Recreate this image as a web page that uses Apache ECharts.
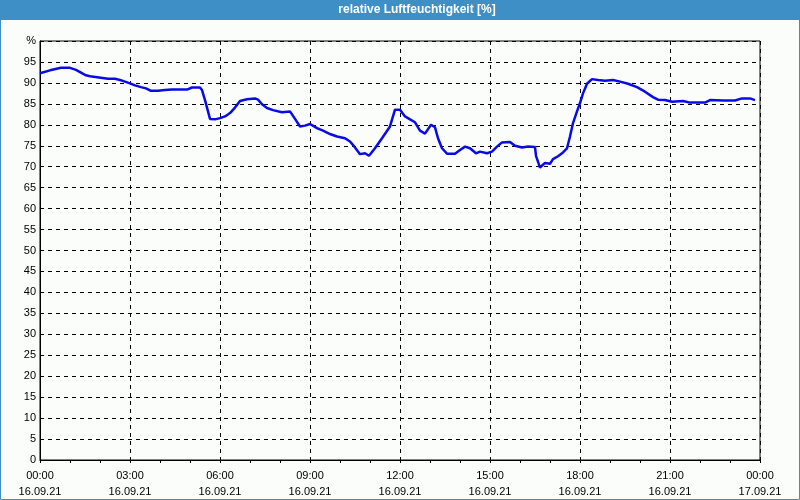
<!DOCTYPE html>
<html>
<head>
<meta charset="utf-8">
<script src="https://cdn.jsdelivr.net/npm/echarts@6/dist/echarts.min.js"></script>
<style>
html,body{margin:0;padding:0;background:#fbfdfb;}
#chart{width:800px;height:500px;}
</style>
</head>
<body>
<div id="chart"></div>
<script>
// minutes since 16.09.21 00:00
var minutes = [0,20,42,60,72,90,100,118,136,150,160,170,180,190,202,212,222,236,250,264,294,304,320,324,330,336,340,350,360,370,380,390,400,414,430,436,444,454,466,484,500,510,520,530,540,554,566,580,594,610,620,630,640,650,658,670,684,700,710,720,730,740,750,760,770,782,790,796,804,814,830,840,850,860,872,880,894,904,914,924,940,950,964,976,990,992,1000,1010,1020,1026,1036,1046,1054,1060,1066,1074,1080,1086,1094,1104,1116,1130,1146,1160,1176,1194,1210,1226,1236,1250,1264,1286,1300,1330,1340,1366,1390,1404,1420,1430];
var humidity = [92.3,93.0,93.6,93.6,93.1,91.9,91.6,91.3,91.0,91.0,90.7,90.3,89.9,89.4,89.0,88.7,88.1,88.1,88.3,88.4,88.4,88.9,88.9,88.3,85.9,83.2,81.4,81.3,81.6,82.0,82.8,84.1,85.7,86.1,86.3,86.0,84.9,84.0,83.5,83.0,83.2,81.4,79.6,79.8,80.2,79.2,78.6,77.8,77.2,76.8,76.0,74.6,73.0,73.2,72.6,74.4,76.8,79.6,83.6,83.6,82.0,81.3,80.6,78.6,77.9,80.0,79.4,76.8,74.4,73.1,73.1,74.0,74.8,74.4,73.2,73.6,73.2,73.6,74.8,75.8,75.9,75.0,74.6,74.8,74.7,72.6,69.8,70.9,70.7,71.8,72.5,73.4,74.4,77.2,80.4,83.2,85.2,87.5,89.8,90.9,90.7,90.5,90.7,90.3,89.8,89.0,87.9,86.6,86.0,85.9,85.5,85.7,85.3,85.3,85.9,85.8,85.8,86.3,86.3,85.9];
var titleText = 'relative Luftfeuchtigkeit [%]';
var yUnit = '%';
var dayStart = '16.09.21', dayNext = '17.09.21';

var data = minutes.map(function(m,i){return [m, humidity[i]];});
var FONT = 'Liberation Sans';
var chart = echarts.init(document.getElementById('chart'));
chart.setOption({
  backgroundColor:'#fbfdfb',
  animation:false,
  graphic:[
    {type:'rect', shape:{x:0,y:0,width:800,height:20}, style:{fill:'#3d8fc6'}, z:10},
    {type:'rect', shape:{x:0.5,y:0.5,width:799,height:499}, style:{fill:null, stroke:'#3d8fc6', lineWidth:1}, z:10},
    {type:'text', x:417, y:10, z:11, style:{text:titleText, fill:'#ffffff', font:'bold 12px "'+FONT+'"', textAlign:'center', textVerticalAlign:'middle'}}
  ],
  grid:{left:40,right:40,top:41,bottom:39,show:true,borderColor:'#000',borderWidth:1,backgroundColor:'transparent'},
  xAxis:{
    type:'value', min:0, max:1440, interval:180,
    axisLine:{show:true,onZero:false,lineStyle:{color:'#000',width:1}},
    axisTick:{show:true,length:3,inside:false,lineStyle:{color:'#000'}},
    minorTick:{show:true,splitNumber:3,length:3,lineStyle:{color:'#000'}},
    splitLine:{show:true,lineStyle:{color:'#000',type:[4,4],width:1}},
    axisLabel:{color:'#000',fontFamily:FONT,fontSize:11,lineHeight:16,margin:8,showMinLabel:true,showMaxLabel:true,
      formatter:function(v){
        var h = Math.floor(v/60)%24;
        var s = (h<10?'0':'')+h+':00';
        return s+'\n'+(v>=1440?dayNext:dayStart);
      }}
  },
  yAxis:{
    type:'value', min:0, max:100, interval:5,
    axisLine:{show:true,lineStyle:{color:'#000',width:1}},
    axisTick:{show:false},
    splitLine:{show:true,lineStyle:{color:'#000',type:[4,4],width:1}},
    axisLabel:{color:'#000',fontFamily:FONT,fontSize:11,margin:4,
      formatter:function(v){return v===100?yUnit:String(v);}}
  },
  series:[{
    type:'line', data:data, showSymbol:false, symbol:'none',
    lineStyle:{color:'#0a0ae6',width:2.5}, z:5
  }]
});
</script>
</body>
</html>
